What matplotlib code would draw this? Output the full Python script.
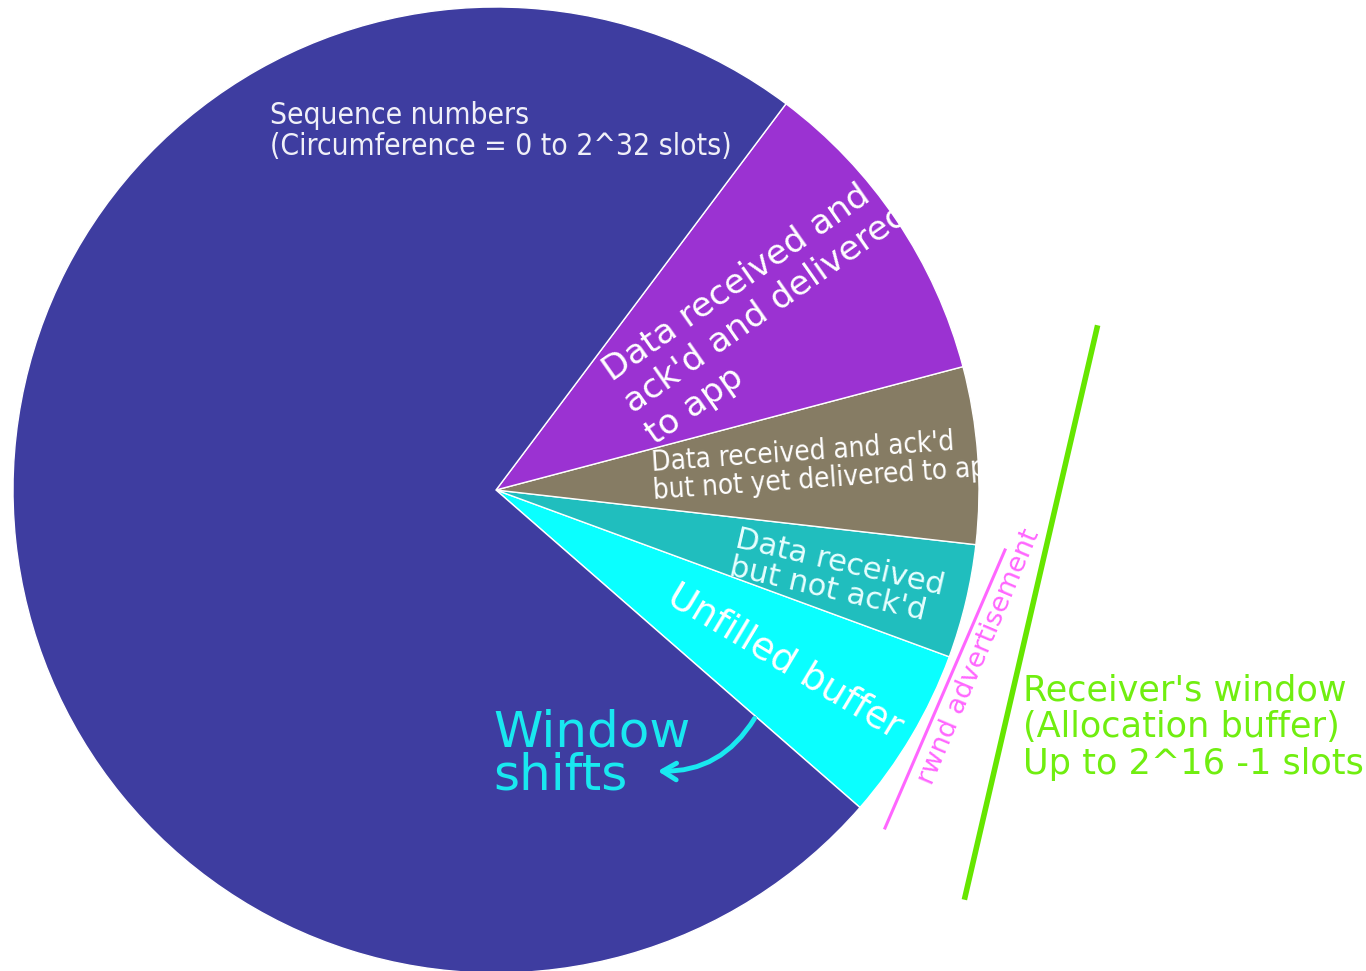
import matplotlib
matplotlib.use("Agg")
import matplotlib.pyplot as plt
from matplotlib.patches import FancyArrowPatch

# slice sizes in degrees, counter-clockwise starting at the lower edge of the window
labels = ["Unfilled buffer", "Data received\nbut not ack'd",
          "Data received and ack'd\nbut not yet delivered to app",
          "Data received and\nack'd and delivered\nto app",
          "Sequence numbers\n(Circumference = 0 to 2^32 slots)"]
sizes = [20.9, 13.7, 21.3, 38.3, 265.8]
colors = ["#0AFFFF", "#20BEBE", "#867C64", "#9B32D2", "#3E3DA0"]
start_angle = -41.1

W, H = 1366, 971


def px(x, y):
    # picture pixel -> data coords
    return x, H - y


fig = plt.figure(figsize=(W / 100, H / 100), dpi=100)
ax = fig.add_axes([0, 0, 1, 1])
wedges, _ = ax.pie(sizes, colors=colors, startangle=start_angle, counterclock=True,
                   radius=483, center=px(496, 490),
                   wedgeprops=dict(edgecolor="white", linewidth=1.0))
ax.set_xlim(0, W)
ax.set_ylim(0, H)
ax.set_aspect("equal")
ax.axis("off")

cond = dict(family="DejaVu Sans", stretch="condensed")

# text inside the slices, clipped to the wedge like the original
t = ax.text(*px(270, 131), labels[4], color="#F0F0F8", fontsize=21.5, ha="left", va="center",
            linespacing=1.1, **cond)
t.set_clip_path(wedges[4])

t = ax.text(*px(628, 406), labels[3], color="white", fontsize=24.8, ha="left", va="center",
            rotation=35, rotation_mode="anchor", linespacing=1.2)
t.set_clip_path(wedges[3])

t = ax.text(*px(652, 477), labels[2], color="white", fontsize=20, ha="left", va="center",
            rotation=4, rotation_mode="anchor", linespacing=1.04, **cond)
t.set_clip_path(wedges[2])

t = ax.text(*px(733, 553), labels[1], color="#E8FFFF", fontsize=22, ha="left", va="center",
            rotation=-13, rotation_mode="anchor", linespacing=1.0)
t.set_clip_path(wedges[1])

t = ax.text(*px(785, 662), labels[0], color="white", fontsize=27, ha="center", va="center",
            rotation=-31, rotation_mode="anchor")
t.set_clip_path(wedges[0])

# window shifts
ax.text(*px(493, 754), "Window\nshifts", color="#19E8F0", fontsize=36, ha="left", va="center",
        linespacing=0.87)
arr = FancyArrowPatch(px(756, 716), px(655, 771), connectionstyle="arc3,rad=-0.3",
                      arrowstyle="->,head_length=10,head_width=6", color="#19E8F0",
                      linewidth=3.5, mutation_scale=1.0)
ax.add_patch(arr)

# rwnd advertisement
ax.plot([px(885, 828)[0], px(1005, 550)[0]], [px(885, 828)[1], px(1005, 550)[1]],
        color="#FF66FF", linewidth=2.2)
ax.text(*px(979, 657), "rwnd advertisement", color="#FF66FF", fontsize=19.5, ha="center",
        va="center", rotation=67, rotation_mode="anchor")

# receiver's window
ax.plot([px(965, 897)[0], px(1097, 328)[0]], [px(965, 897)[1], px(1097, 328)[1]],
        color="#66E600", linewidth=4)
ax.text(*px(1023, 727), "Receiver's window\n(Allocation buffer)\nUp to 2^16 -1 slots",
        color="#70EE10", fontsize=25.3, ha="left", va="center", linespacing=1.1)

fig.savefig("out.png", dpi=100)
